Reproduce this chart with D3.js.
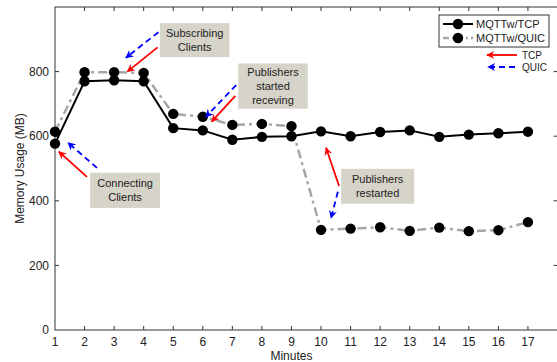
<!DOCTYPE html>
<html>
<head>
<meta charset="utf-8">
<script src="https://cdn.jsdelivr.net/npm/d3@7"></script>
<style>
  body { margin: 0; background: #fff; }
  svg { font-family: "Liberation Sans", Arial, sans-serif; }
</style>
</head>
<body>
<svg id="chart"></svg>
<script>
// minutes on the x axis
const minutes = [1,2,3,4,5,6,7,8,9,10,11,12,13,14,15,16,17];
// memory usage (MB)
const tcpValues  = [577,770,773,770,625,618,589,598,600,615,600,613,618,598,605,609,614];
const quicValues = [614,798,798,796,669,660,635,638,631,310,314,318,307,317,306,309,334];
const yTicks = [0,200,400,600,800];
const seriesNames = ["MQTTw/TCP","MQTTw/QUIC"];

// annotation boxes: label lines + where they sit
const notes = [
  {lines:["Connecting","Clients"], x:[2.19,4.55], y:[487,378]},
  {lines:["Subscribing","Clients"], x:[4.55,6.9], y:[950,845]},
  {lines:["Publishers","started","receving"], x:[7.2,9.55], y:[825,685]},
  {lines:["Publishers","restarted"], x:[10.68,13.15], y:[499,391]}
];
// arrows in data coords: [x1,y1] tail -> [x2,y2] head
const redArrows = [
  [[2.08,474],[1.13,552]],
  [[4.47,875],[3.45,800]],
  [[7.1,725],[6.3,645]],
  [[10.61,446],[10.17,564]]
];
const blueArrows = [
  [[2.42,502],[1.44,580]],
  [[4.5,922],[3.4,843]],
  [[7.13,758],[6.1,660]],
  [[10.57,428],[10.34,347]]
];

const width = 557, height = 362;
const margins = {top: 7, bottom: 32, left: 55, right: 0};

const svg = d3.select("#chart").attr("width", width).attr("height", height);

const x = d3.scaleLinear().domain([1,18]).range([margins.left, width - margins.right + 0.5]);
const y = d3.scaleLinear().domain([0,1000]).range([height - margins.bottom, margins.top]);

const tickLen = 4;
const axisCol = "#333";

// box
svg.append("rect")
  .attr("x", x(1)).attr("y", y(1000))
  .attr("width", x(18) - x(1)).attr("height", y(0) - y(1000))
  .attr("fill", "none").attr("stroke", axisCol).attr("stroke-width", 1);

// x ticks (bottom + top, inward)
minutes.forEach(m => {
  if (m === 1) return;
  svg.append("line").attr("x1", x(m)).attr("x2", x(m)).attr("y1", y(0)).attr("y2", y(0) - tickLen).attr("stroke", axisCol);
  svg.append("line").attr("x1", x(m)).attr("x2", x(m)).attr("y1", y(1000)).attr("y2", y(1000) + tickLen).attr("stroke", axisCol);
});
svg.append("g").selectAll("text").data(minutes).join("text")
  .attr("x", d => x(d)).attr("y", y(0) + 16)
  .attr("text-anchor", "middle").attr("font-size", 12).attr("fill", "#222")
  .text(d => d);

// y ticks (left + right, inward)
yTicks.forEach(t => {
  if (t === 0) return;
  svg.append("line").attr("x1", x(1)).attr("x2", x(1) + tickLen).attr("y1", y(t)).attr("y2", y(t)).attr("stroke", axisCol);
  svg.append("line").attr("x1", x(18)).attr("x2", x(18) - tickLen).attr("y1", y(t)).attr("y2", y(t)).attr("stroke", axisCol);
});
svg.append("g").selectAll("text").data(yTicks).join("text")
  .attr("x", x(1) - 6).attr("y", d => y(d)).attr("dy", "0.35em")
  .attr("text-anchor", "end").attr("font-size", 12).attr("fill", "#222")
  .text(d => d);

// axis titles
svg.append("text").attr("x", x(9)).attr("y", 360)
  .attr("text-anchor", "middle").attr("font-size", 12).attr("fill", "#222").text("Minutes");
svg.append("text").attr("transform", `translate(24,${y(500)}) rotate(-90)`)
  .attr("text-anchor", "middle").attr("font-size", 12).attr("fill", "#222").text("Memory Usage (MB)");

// lines
const tcpData = minutes.map((m,i) => ({m, v: tcpValues[i]}));
const quicData = minutes.map((m,i) => ({m, v: quicValues[i]}));
const line = d3.line().x(d => x(d.m)).y(d => y(d.v));

svg.append("path").datum(quicData).attr("d", line)
  .attr("fill", "none").attr("stroke", "#a6a6a6").attr("stroke-width", 2.5)
  .attr("stroke-dasharray", "9,4,3,4");
svg.append("path").datum(tcpData).attr("d", line)
  .attr("fill", "none").attr("stroke", "#000").attr("stroke-width", 2);

svg.append("g").selectAll("circle").data(quicData).join("circle")
  .attr("cx", d => x(d.m)).attr("cy", d => y(d.v)).attr("r", 5.2).attr("fill", "#000");
svg.append("g").selectAll("circle").data(tcpData).join("circle")
  .attr("cx", d => x(d.m)).attr("cy", d => y(d.v)).attr("r", 5.2).attr("fill", "#000");

// annotation boxes
notes.forEach(n => {
  const x0 = x(n.x[0]), x1 = x(n.x[1]), y0 = y(n.y[0]), y1 = y(n.y[1]);
  svg.append("rect").attr("x", x0).attr("y", y0).attr("width", x1 - x0).attr("height", y1 - y0)
    .attr("fill", "#d6d3c8");
  const lh = 14;
  const cy = (y0 + y1) / 2 - (n.lines.length - 1) * lh / 2;
  n.lines.forEach((t, i) => {
    svg.append("text").attr("x", (x0 + x1) / 2).attr("y", cy + i * lh).attr("dy", "0.35em")
      .attr("text-anchor", "middle").attr("font-size", 11).attr("fill", "#222").text(t);
  });
});

// arrowheads
const defs = svg.append("defs");
defs.append("marker").attr("id", "headRed").attr("viewBox", "0 0 10 10")
  .attr("refX", 9).attr("refY", 5).attr("markerWidth", 10).attr("markerHeight", 8)
  .attr("markerUnits", "userSpaceOnUse").attr("orient", "auto")
  .append("path").attr("d", "M0,0 L10,5 L0,10 L3,5 Z").attr("fill", "#f00");
defs.append("marker").attr("id", "headBlue").attr("viewBox", "0 0 10 10")
  .attr("refX", 9).attr("refY", 5).attr("markerWidth", 10).attr("markerHeight", 8)
  .attr("markerUnits", "userSpaceOnUse").attr("orient", "auto")
  .append("path").attr("d", "M0,0 L10,5 L0,10 L3,5 Z").attr("fill", "#00f");

redArrows.forEach(a => {
  svg.append("line").attr("x1", x(a[0][0])).attr("y1", y(a[0][1]))
    .attr("x2", x(a[1][0])).attr("y2", y(a[1][1]))
    .attr("stroke", "#f00").attr("stroke-width", 1.8).attr("marker-end", "url(#headRed)");
});
blueArrows.forEach(a => {
  svg.append("line").attr("x1", x(a[0][0])).attr("y1", y(a[0][1]))
    .attr("x2", x(a[1][0])).attr("y2", y(a[1][1]))
    .attr("stroke", "#00f").attr("stroke-width", 1.8).attr("stroke-dasharray", "6,4")
    .attr("marker-end", "url(#headBlue)");
});

// legend
const lg = svg.append("g");
lg.append("rect").attr("x", 439).attr("y", 15).attr("width", 110).attr("height", 32)
  .attr("fill", "#fff").attr("stroke", "#333");
seriesNames.forEach((s, i) => {
  const ly = 24 + i * 14;
  lg.append("line").attr("x1", 443).attr("x2", 473).attr("y1", ly).attr("y2", ly)
    .attr("stroke", i === 0 ? "#000" : "#a6a6a6").attr("stroke-width", i === 0 ? 2 : 2.5)
    .attr("stroke-dasharray", i === 0 ? null : "6,3,2,3");
  lg.append("circle").attr("cx", 458).attr("cy", ly).attr("r", 5.2).attr("fill", "#000");
  lg.append("text").attr("x", 476).attr("y", ly).attr("dy", "0.35em")
    .attr("font-size", 11).attr("fill", "#222").text(s);
});
lg.append("line").attr("x1", 517).attr("x2", 487).attr("y1", 55).attr("y2", 55)
  .attr("stroke", "#f00").attr("stroke-width", 1.8).attr("marker-end", "url(#headRed)");
lg.append("line").attr("x1", 515).attr("x2", 488).attr("y1", 67).attr("y2", 67)
  .attr("stroke", "#00f").attr("stroke-width", 1.8).attr("stroke-dasharray", "6,4")
  .attr("marker-end", "url(#headBlue)");
lg.append("text").attr("x", 522).attr("y", 55).attr("dy", "0.35em").attr("font-size", 10).attr("fill", "#222").text("TCP");
lg.append("text").attr("x", 522).attr("y", 67).attr("dy", "0.35em").attr("font-size", 10).attr("fill", "#222").text("QUIC");
</script>
</body>
</html>
